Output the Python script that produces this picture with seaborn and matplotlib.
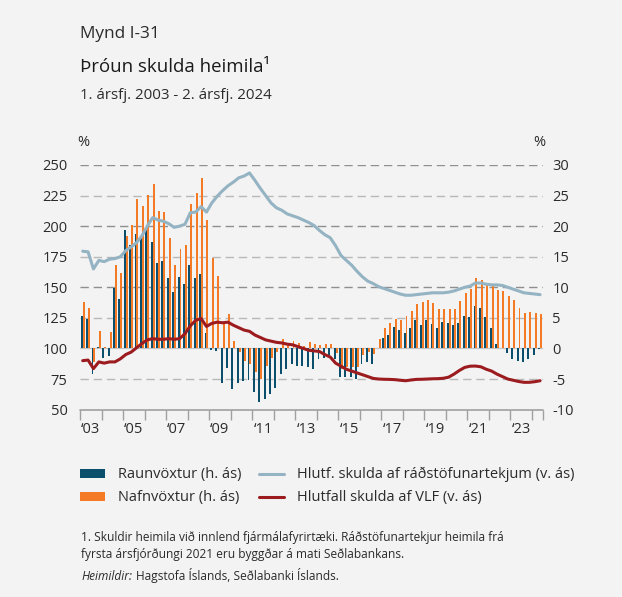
import matplotlib
matplotlib.use("Agg")
import matplotlib.pyplot as plt
import seaborn as sns
import numpy as np
import pandas as pd
from matplotlib.patches import Patch
from matplotlib.lines import Line2D

# ---------------- data (quarterly, 2003Q1 - 2024Q2) ----------------
raunvoxtur = [5.3, 4.8, -4.2, 0.2, -1.5, -1.2, 9.9, 8.1, 19.3, 16.9, 18.7, 18.4,
              19.7, 17.4, 13.9, 14.3, 11.5, 9.2, 11.7, 10.5, 13.6, 11.5, 12.1, 2.5,
              -0.3, -0.4, -5.7, -3.2, -6.6, -5.7, -5.4, -5.1, -7.2, -8.8, -8.2, -7.4,
              -6.4, -4.1, -3.4, -2.6, -2.9, -2.9, -3.0, -3.4, -1.7, -1.5, -1.1, -1.8,
              -4.6, -4.6, -4.7, -5.0, -2.5, -2.2, -2.6, 0.0, 1.7, 2.2, 3.5, 3.0,
              2.5, 3.3, 4.6, 3.8, 4.7, 4.0, 3.3, 4.3, 4.1, 3.8, 4.1, 5.3,
              5.1, 6.9, 6.6, 5.1, 3.3, 0.7, 0.1, -0.8, -1.7, -2.0, -2.2, -1.7,
              -1.0, -0.1]
nafnvoxtur = [7.6, 6.6, -2.2, 2.8, 0.2, 2.7, 13.6, 12.3, 18.4, 20.2, 24.4, 23.3,
              25.1, 26.9, 22.4, 22.3, 18.0, 13.6, 16.2, 16.9, 23.6, 25.5, 27.8, 21.0,
              14.8, 11.8, 4.0, 5.6, 1.2, -0.5, -2.0, -2.6, -3.8, -5.0, -2.9, -1.5,
              -0.5, 1.5, 0.7, 1.3, 0.9, 0.4, 1.0, 0.65, 0.5, 0.7, 0.7, -0.7,
              -3.3, -3.1, -3.1, -3.1, -1.0, -0.5, -0.9, 1.6, 3.3, 4.1, 4.8, 4.7,
              5.3, 6.1, 7.3, 7.6, 7.9, 7.4, 6.4, 6.4, 6.4, 6.4, 7.7, 9.0,
              9.7, 11.5, 11.2, 10.3, 10.2, 9.5, 9.4, 8.6, 7.9, 6.6, 5.8, 5.9,
              5.8, 5.6]
radstofunartekjur = [179.5, 179, 165, 172, 171, 173, 173.5, 175, 180, 183, 186.5, 192,
                     200, 207, 205, 204, 202, 199, 200, 201.5, 211, 211.5, 216, 211.5,
                     219, 224.5, 229, 233, 236, 239.5, 241, 243.5, 237.5, 231, 225, 219,
                     215, 213, 210, 208.5, 207, 205, 203, 200.5, 196.5, 193, 190.5, 184,
                     176, 172, 168, 163, 158.5, 155, 153, 150.5, 149, 147.5, 146, 144.5,
                     143.5, 143.5, 144, 144.5, 145, 145.5, 145.5, 145.5, 146, 147, 148.5, 150,
                     151, 153.5, 153.5, 152.5, 152, 152, 151.5, 150, 148.5, 147, 145.5, 145,
                     144.5, 144]
vlf = [90, 90.5, 83.5, 89, 88, 89, 89, 91.5, 95, 97, 100.5, 104,
       107, 108, 107.5, 107.5, 108, 107.5, 108, 112, 118.5, 123, 124.5, 118,
       120.5, 121.5, 121, 121.5, 119, 117, 115, 114, 111, 109, 107, 106,
       105, 104.5, 103.5, 103, 101.5, 100, 98.5, 98, 97.5, 95, 93, 88,
       85.5, 83, 81.5, 80, 78.5, 77, 75.5, 75, 74.8, 74.7, 74.5, 74,
       73.6, 74.2, 74.7, 74.8, 75, 75.2, 75.3, 75.6, 76.5, 79, 82, 84.5,
       85.5, 85.6, 85, 83, 81.5, 79, 77, 75, 74, 73, 72.3, 72.3,
       72.8, 73.6]
years = list(range(2003, 2025))
xlabels = ["\u2018%02d" % (y % 100) for y in years if y % 2 == 1]
left_ticks = [50, 75, 100, 125, 150, 175, 200, 225, 250]
right_ticks = [-10, -5, 0, 5, 10, 15, 20, 25, 30]

C_REAL = "#0b4f6c"
C_NOM = "#f47a25"
C_DISP = "#94b3c3"
C_GDP = "#9b1b1f"
BG = "#f3f3f3"
TXT = "#2b2b2b"
GRID_D = "#8f8f8f"
GRID_L = "#b8b8b8"
AXC = "#a0a0a0"

nq = len(raunvoxtur)
q = np.arange(nq)
bars = pd.DataFrame({
    "q": np.concatenate([q, q]),
    "val": raunvoxtur + nafnvoxtur,
    "series": ["Raunvöxtur"] * nq + ["Nafnvöxtur"] * nq,
})

sns.set_theme(style="white", rc={"xtick.bottom": True, "xtick.major.size": 7,
                                 "xtick.major.width": 1.0, "xtick.color": AXC,
                                 "xtick.labelcolor": TXT})
plt.rcParams["font.family"] = ["Open Sans", "DejaVu Sans"]

W, H = 622, 597
fig = plt.figure(figsize=(W / 100, H / 100), dpi=100)
fig.patch.set_facecolor(BG)

x0, x1 = 80, 542.75
ytop, ybot = 165, 409.6
ax = fig.add_axes([x0 / W, 1 - ybot / H, (x1 - x0) / W, (ybot - ytop) / H])
ax.set_facecolor(BG)

# bars (right axis)
sns.barplot(data=bars, x="q", y="val", hue="series", hue_order=["Raunvöxtur", "Nafnvöxtur"],
            palette=[C_REAL, C_NOM], width=0.72, dodge=True, saturation=1,
            errorbar=None, legend=False, ax=ax, zorder=2)
for p in ax.patches:
    p.set_edgecolor("none")
    p.set_linewidth(0)
ax.set_ylim(-10, 30)
ax.set_xlim(-0.5, nq - 0.5)

# grid lines behind the bars
for v in right_ticks[1:]:
    if v == 0:
        ax.axhline(0, color="#c4c4c4", lw=0.9, zorder=1.5)
    else:
        ax.axhline(v, color=GRID_D if v in (10, 20, 30) else GRID_L, lw=1.0,
                   ls=(0, (6, 3.5)), zorder=1)
ax.axhline(-10, color=AXC, lw=1.2, zorder=1.5, clip_on=False)

# lines (left axis)
ax2 = ax.twinx()
sns.lineplot(x=q, y=radstofunartekjur, ax=ax2, color=C_DISP, lw=2.2, zorder=3)
sns.lineplot(x=q, y=vlf, ax=ax2, color=C_GDP, lw=2.2, zorder=4)
ax2.set_ylim(50, 250)
ax2.set_xlim(-0.5, nq - 0.5)

# axes styling
ax.yaxis.tick_right()
ax.yaxis.set_label_position("right")
ax2.yaxis.tick_left()
ax2.yaxis.set_label_position("left")
ax.set_yticks(right_ticks)
ax.set_yticklabels([str(v) for v in right_ticks])
ax2.set_yticks(left_ticks)
ax2.set_yticklabels([str(v) for v in left_ticks])
for a in (ax, ax2):
    a.set_xlabel("")
    a.set_ylabel("")
    for s in a.spines.values():
        s.set_visible(False)
ax.tick_params(axis="y", which="both", length=0, pad=7, labelsize=10.5, colors=TXT)
ax2.tick_params(axis="y", length=0, pad=9, labelsize=10.5, colors=TXT)

major = [-0.5 + 4 * i for i in range(len(years))] + [nq - 0.5]
minor = [-0.5 + 4 * i + 2 for i, y in enumerate(years) if y % 2 == 1]
ax.set_xticks(major)
ax.set_xticklabels([""] * len(major))
ax.set_xticks(minor, minor=True)
ax.set_xticklabels(xlabels, minor=True)
ax.tick_params(axis="x", which="major", bottom=True, length=7, width=1.0, color=AXC)
ax.tick_params(axis="x", which="minor", bottom=True, length=0, pad=9, labelsize=10.5,
               labelcolor=TXT)

ax2.text(-0.005, 1.06, "%", transform=ax2.transAxes, ha="left", va="bottom",
         fontsize=10.5, color=TXT)
ax2.text(1.005, 1.06, "%", transform=ax2.transAxes, ha="right", va="bottom",
         fontsize=10.5, color=TXT)

# titles
def fy(px):
    return 1 - px / H

fig.text(80 / W, fy(37.5), "Mynd I-31", fontsize=12.4, color=TXT, va="baseline")
fig.text(80 / W, fy(72), "Þróun skulda heimila¹", fontsize=13.4, color="#1a1a1a", va="baseline")
fig.text(80 / W, fy(99), "1. ársfj. 2003 - 2. ársfj. 2024", fontsize=10.8, color=TXT, va="baseline")

# legend
handles = [Patch(facecolor=C_REAL, edgecolor="none"),
           Patch(facecolor=C_NOM, edgecolor="none"),
           Line2D([], [], color=C_DISP, lw=2.2),
           Line2D([], [], color=C_GDP, lw=2.2)]
labels = ["Raunvöxtur (h. ás)", "Nafnvöxtur (h. ás)",
          "Hlutf. skulda af ráðstöfunartekjum (v. ás)", "Hlutfall skulda af VLF (v. ás)"]
leg = fig.legend(handles, labels, ncol=2, loc="upper left",
                 bbox_to_anchor=(67 / W, fy(454)), frameon=False, fontsize=10.5,
                 handlelength=1.7, handleheight=0.55, handletextpad=0.9,
                 columnspacing=1.2, labelspacing=0.55, labelcolor=TXT)

# footnotes
fig.text(81 / W, fy(541), "1. Skuldir heimila við innlend fjármálafyrirtæki. Ráðstöfunartekjur heimila frá",
         fontsize=8.6, color=TXT, va="baseline")
fig.text(81 / W, fy(558), "fyrsta ársfjórðungi 2021 eru byggðar á mati Seðlabankans.",
         fontsize=8.6, color=TXT, va="baseline")
t_src = fig.text(81 / W, fy(580), "Heimildir:", fontsize=8.6, color=TXT, va="baseline",
                 style="italic")
renderer = fig.canvas.get_renderer()
bb = t_src.get_window_extent(renderer=renderer)
fig.text((bb.x1 + 3.5) / W, fy(580), "Hagstofa Íslands, Seðlabanki Íslands.", fontsize=8.6,
         color=TXT, va="baseline")

fig.savefig("out.png", dpi=100, facecolor=fig.get_facecolor())
